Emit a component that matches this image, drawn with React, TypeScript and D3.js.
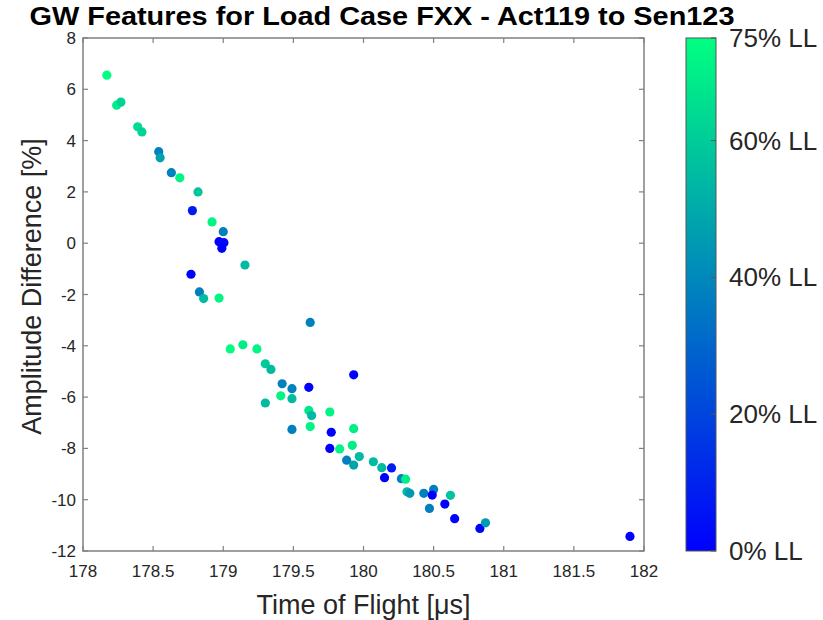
import React from "react";
import * as d3 from "d3";

// Time of flight [µs], amplitude difference [%] and load level [% LL] per feature
const tof = [
  178.17, 178.24, 178.27, 178.39, 178.42, 178.54, 178.55, 178.63, 178.69, 178.82,
  178.78, 178.92, 179.0, 178.97, 179.005, 178.99, 179.155, 178.77, 178.83, 178.86,
  178.97, 179.62, 179.05, 179.14, 179.24, 179.3, 179.34, 179.93, 179.42, 179.49,
  179.61, 179.41, 179.49, 179.3, 179.61, 179.63, 179.76, 179.62, 179.49, 179.93,
  179.77, 179.76, 179.83, 179.92, 179.97, 179.88, 179.93, 180.07, 180.13, 180.2,
  180.15, 180.27, 180.3, 180.31, 180.33, 180.43, 180.5, 180.49, 180.47, 180.58,
  180.62, 180.65, 180.83, 180.87, 181.9,
];
const ampDiff = [
  6.55, 5.38, 5.5, 4.54, 4.34, 3.57, 3.33, 2.75, 2.55, 2.0,
  1.27, 0.83, 0.45, 0.06, 0.02, -0.2, -0.85, -1.21, -1.9, -2.16,
  -2.14, -3.09, -4.12, -3.96, -4.12, -4.7, -4.92, -5.13, -5.48, -5.67,
  -5.62, -5.95, -6.06, -6.23, -6.52, -6.72, -6.58, -7.15, -7.26, -7.23,
  -7.37, -8.0, -8.02, -7.88, -8.32, -8.46, -8.65, -8.52, -8.75, -8.76,
  -9.14, -9.18, -9.2, -9.69, -9.75, -9.75, -9.6, -9.82, -10.34, -10.17,
  -9.83, -10.74, -11.12, -10.9, -11.43,
];
const loadLevel = [
  75, 70, 62, 65, 62, 38, 48, 38, 72, 58,
  8, 72, 38, 0, 3, 0, 55, 0, 38, 55,
  72, 38, 75, 70, 72, 60, 55, 0, 38, 38,
  0, 72, 55, 55, 68, 55, 72, 72, 38, 70,
  0, 0, 72, 70, 55, 38, 48, 55, 55, 8,
  0, 38, 70, 55, 45, 38, 38, 0, 38, 0,
  58, 0, 0, 45, 0,
];

const xTicks = [178, 178.5, 179, 179.5, 180, 180.5, 181, 181.5, 182];
const yTicks = [8, 6, 4, 2, 0, -2, -4, -6, -8, -10, -12];
const cbTicks = [0, 20, 40, 60, 75];
const cbTickLabels = ["0% LL", "20% LL", "40% LL", "60% LL", "75% LL"];

const title = "GW Features for Load Case FXX - Act119 to Sen123";
const xLabel = "Time of Flight [μs]";
const yLabel = "Amplitude Difference [%]";

// MATLAB "winter" colormap: blue -> spring green
const winter = (t: number) => {
  const c = Math.max(0, Math.min(1, t));
  return `rgb(0,${Math.round(255 * c)},${Math.round(255 * (1 - 0.5 * c))})`;
};

export default function App() {
  const W = 823;
  const H = 620;
  const left = 83, right = 644, top = 38, bottom = 551;
  const x = d3.scaleLinear().domain([178, 182]).range([left, right]);
  const y = d3.scaleLinear().domain([-12, 8]).range([bottom, top]);
  const cDomain: [number, number] = [0, 75];
  const cNorm = d3.scaleLinear().domain(cDomain).range([0, 1]);
  const cbX = 686, cbW = 30;
  const cbY = d3.scaleLinear().domain(cDomain).range([bottom, top]);

  const points = tof.map((t, i) => ({ t, a: ampDiff[i], ll: loadLevel[i] }));
  const stops = d3.range(0, 1.0001, 0.1);
  const font = "'Liberation Sans', Arial, Helvetica, sans-serif";
  const axisColor = "#808080";
  const textColor = "#262626";
  const tickLen = 5;

  return (
    <svg width={W} height={H} style={{ position: "absolute", left: 0, top: 0, background: "#fff" }} fontFamily={font}>
      <defs>
        <linearGradient id="cb" x1="0" y1="1" x2="0" y2="0">
          {stops.map((s) => (
            <stop key={s} offset={s} stopColor={winter(s)} />
          ))}
        </linearGradient>
      </defs>
      <rect width={W} height={H} fill="#fff" />

      {/* title */}
      <text x={382} y={25} textAnchor="middle" fontSize={25} fontWeight="bold" fill="#000"
        textLength={705} lengthAdjust="spacingAndGlyphs">
        {title}
      </text>

      {/* axes box */}
      <rect x={left} y={top} width={right - left} height={bottom - top} fill="none" stroke={axisColor} strokeWidth={1.5} />
      {xTicks.map((v) => (
        <g key={"xt" + v}>
          <line x1={x(v)} x2={x(v)} y1={bottom} y2={bottom - tickLen} stroke={axisColor} strokeWidth={1.2} />
          <line x1={x(v)} x2={x(v)} y1={top} y2={top + tickLen} stroke={axisColor} strokeWidth={1.2} />
          <text x={x(v)} y={577} textAnchor="middle" fontSize={17} fill={textColor}>{v}</text>
        </g>
      ))}
      {yTicks.map((v) => (
        <g key={"yt" + v}>
          <line x1={left} x2={left + tickLen} y1={y(v)} y2={y(v)} stroke={axisColor} strokeWidth={1.2} />
          <line x1={right} x2={right - tickLen} y1={y(v)} y2={y(v)} stroke={axisColor} strokeWidth={1.2} />
          <text x={76} y={y(v) + 6} textAnchor="end" fontSize={17} fill={textColor}>{v}</text>
        </g>
      ))}

      {/* axis labels */}
      <text x={(left + right) / 2} y={614} textAnchor="middle" fontSize={27} fill={textColor}>{xLabel}</text>
      <text transform={`translate(41,${(top + bottom) / 2 - 8}) rotate(-90)`} textAnchor="middle" fontSize={27} fill={textColor}>
        {yLabel}
      </text>

      {/* scatter */}
      {points.map((p, i) => (
        <circle key={i} cx={x(p.t)} cy={y(p.a)} r={4.6} fill={winter(cNorm(p.ll))} />
      ))}

      {/* colorbar */}
      <rect x={cbX} y={top} width={cbW} height={bottom - top} fill="url(#cb)" stroke="#555" strokeWidth={1} />
      {cbTicks.map((v, i) => (
        <g key={"cb" + v}>
          <line x1={cbX + cbW} x2={cbX + cbW - 5} y1={cbY(v)} y2={cbY(v)} stroke="#555" strokeWidth={1} />
          <text x={729} y={cbY(v) + 9} fontSize={26} fill={textColor}>{cbTickLabels[i]}</text>
        </g>
      ))}
    </svg>
  );
}
